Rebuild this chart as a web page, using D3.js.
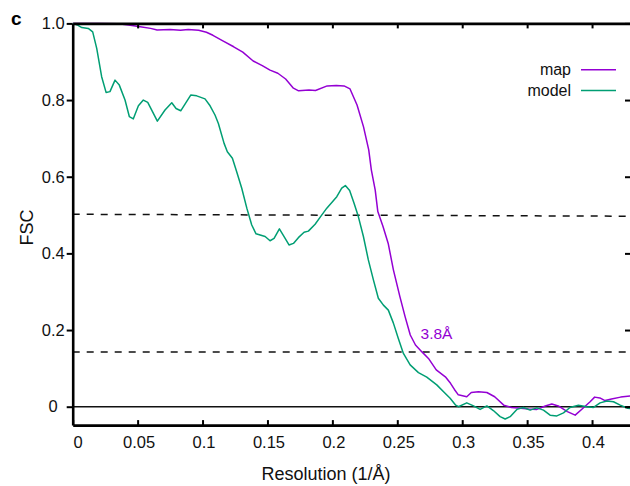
<!DOCTYPE html>
<html>
<head>
<meta charset="utf-8">
<script src="https://cdn.jsdelivr.net/npm/d3@7"></script>
<style>
  body { margin: 0; background: #fff; }
  svg { display: block; font-family: "Liberation Sans", Arial, Helvetica, sans-serif; }
</style>
</head>
<body>
<svg id="containerSVG" width="630" height="486"></svg>
<script>
//DATI

var risoluzioneMap = [0, 0.02, 0.035, 0.043, 0.052, 0.06, 0.065, 0.075, 0.083, 0.089, 0.097, 0.103, 0.108,
    0.116, 0.124, 0.131, 0.139, 0.146, 0.152, 0.158, 0.164, 0.17, 0.174, 0.182, 0.187, 0.196, 0.203, 0.209,
    0.2136, 0.219, 0.224, 0.228, 0.23, 0.233, 0.235, 0.239, 0.243, 0.247, 0.252, 0.256, 0.26, 0.264, 0.269,
    0.274, 0.28, 0.287, 0.291, 0.294, 0.297, 0.3035, 0.307, 0.3125, 0.319, 0.325, 0.332, 0.338, 0.345,
    0.351, 0.3575, 0.364, 0.369, 0.374, 0.381, 0.387, 0.393, 0.3985, 0.402, 0.406, 0.41, 0.415, 0.422, 0.43];
var fscMap = [1.0, 1.0, 0.999, 0.996, 0.991, 0.987, 0.983, 0.984, 0.982, 0.984, 0.982, 0.977, 0.969,
    0.954, 0.939, 0.925, 0.902, 0.89, 0.878, 0.87, 0.855, 0.831, 0.824, 0.826, 0.825, 0.837, 0.838, 0.837,
    0.829, 0.787, 0.73, 0.67, 0.618, 0.565, 0.509, 0.47, 0.426, 0.357, 0.287, 0.235, 0.187, 0.161, 0.143,
    0.126, 0.096, 0.078, 0.061, 0.045, 0.031, 0.026, 0.037, 0.039, 0.037, 0.026, 0.004, -0.002, -0.004,
    -0.006, -0.007, 0.002, 0.007, 0.002, -0.013, -0.022, -0.004, 0.013, 0.025, 0.023, 0.016, 0.02, 0.025, 0.028];

var risoluzioneModel = [0, 0.0035, 0.007, 0.012, 0.0154, 0.0185, 0.0223, 0.0257, 0.0287, 0.0326, 0.0359,
    0.0403, 0.0436, 0.0467, 0.0506, 0.0544, 0.0578, 0.0652, 0.0711, 0.0763, 0.0796, 0.0832, 0.0909, 0.0955,
    0.1019, 0.1058, 0.1096, 0.1122, 0.1166, 0.1191, 0.123, 0.1263, 0.1302, 0.1341, 0.1379, 0.1412, 0.1482,
    0.152, 0.1551, 0.1592, 0.1628, 0.1666, 0.17, 0.1738, 0.1782, 0.1815, 0.1867, 0.1905, 0.1957, 0.2034,
    0.2072, 0.21, 0.2133, 0.2167, 0.22, 0.2239, 0.2277, 0.2316, 0.2354, 0.2393, 0.2431, 0.247, 0.2508,
    0.2547, 0.2599, 0.2663, 0.2727, 0.2804, 0.2868, 0.2907, 0.295, 0.2971, 0.3035, 0.3087, 0.3138, 0.319,
    0.324, 0.3292, 0.3331, 0.3369, 0.3421, 0.3472, 0.3523, 0.3575, 0.3626, 0.3677, 0.3729, 0.378, 0.383,
    0.3895, 0.396, 0.4011, 0.4062, 0.4114, 0.4165, 0.4217, 0.4274, 0.43];
var fscModel = [1.0, 0.996, 0.989, 0.987, 0.978, 0.935, 0.861, 0.82, 0.822, 0.852, 0.839,
    0.8, 0.757, 0.751, 0.785, 0.8, 0.794, 0.745, 0.774, 0.793, 0.778, 0.772, 0.813, 0.811,
    0.803, 0.785, 0.761, 0.739, 0.687, 0.665, 0.648, 0.613, 0.57, 0.518, 0.474, 0.451, 0.444,
    0.433, 0.439, 0.464, 0.444, 0.422, 0.426, 0.441, 0.455, 0.458, 0.476, 0.494, 0.518, 0.548,
    0.57, 0.577, 0.564, 0.531, 0.496, 0.444, 0.383, 0.331, 0.283, 0.265, 0.252, 0.218, 0.178,
    0.139, 0.109, 0.089, 0.077, 0.057, 0.035, 0.022, 0.004, 0.0, 0.01, 0.002, -0.007, 0.002,
    -0.01, -0.026, -0.032, -0.026, -0.007, -0.002, -0.009, -0.003, -0.009, -0.022, -0.024, -0.016, -0.002,
    0.004, 0.0, -0.002, 0.01, 0.015, 0.013, 0.004, -0.004, -0.005];

// soglie tratteggiate (la 0.5 e' leggermente inclinata nell'originale)
var sogliaMezzo = [[0, 0.502], [0.43, 0.497]];
var sogliaBassa = [[0, 0.143], [0.43, 0.143]];

var tickX = [0, 0.05, 0.1, 0.15, 0.2, 0.25, 0.3, 0.35, 0.4];
var tickY = [0, 0.2, 0.4, 0.6, 0.8, 1.0];

var nomiLegenda = ["map", "model"];
var colori = ["#9400d3", "#009e73"];

var risoluzioneSoglia = 0.2632; // 1/3.8
var etichettaSoglia = "3.8\u00c5";

//VARIABILI

var svg = d3.select("#containerSVG");
var sinistra = 72.7, destra = 631, alto = 23.4, basso = 425.1;

var x = d3.scaleLinear().domain([0, 0.43]).range([sinistra, destra]);
var y = d3.scaleLinear().domain([-0.048, 1.0]).range([basso, alto]);

var linea = d3.line()
    .x(d => x(d[0]))
    .y(d => y(d[1]));

//FUNZIONI

function zip(a, b){
    return a.map((v, i) => [v, b[i]]);
}

function disegnaSoglie(){

    [sogliaMezzo, sogliaBassa].forEach(s => {
        svg.append("path")
            .datum(s)
            .attr("d", linea)
            .attr("fill", "none")
            .attr("stroke", "#111")
            .attr("stroke-width", 1.5)
            .attr("stroke-dasharray", "7,7");
    });

    svg.append("line")
        .attr("x1", x(0))
        .attr("x2", x(0.43))
        .attr("y1", y(0))
        .attr("y2", y(0))
        .attr("stroke", "#111")
        .attr("stroke-width", 1.5);

}

function disegnaCurve(){

    var serie = [zip(risoluzioneMap, fscMap), zip(risoluzioneModel, fscModel)];

    svg.selectAll(".curva")
        .data(serie)
        .enter()
        .append("path")
        .attr("class", "curva")
        .attr("d", linea)
        .attr("fill", "none")
        .attr("stroke", (d, i) => colori[i])
        .attr("stroke-width", 1.5)
        .attr("stroke-linejoin", "round");

    svg.append("text")
        .attr("x", x(risoluzioneSoglia) + 157)
        .attr("y", 338.5)
        .attr("x", 436.5)
        .style("text-anchor", "middle")
        .style("font-size", "15.5px")
        .attr("fill", colori[0])
        .text(etichettaSoglia);

}

function formatoTick(d){
    return d === 0 ? "0" : String(+d.toFixed(2));
}

function disegnaAssi(){

    var assi = svg.append("g");

    // sinistra: tick verso l'esterno
    var gSx = assi.append("g")
        .attr("transform", "translate(" + sinistra + ",0)")
        .call(d3.axisLeft(y).tickValues(tickY).tickSize(6).tickSizeOuter(0)
            .tickFormat(d => d === 0 ? "0" : d.toFixed(1)));
    gSx.selectAll(".tick text")
        .attr("x", -19.5)
        .style("text-anchor", "middle");

    // basso: tick verso l'interno
    var gBasso = assi.append("g")
        .attr("transform", "translate(0," + basso + ")")
        .call(d3.axisBottom(x).tickValues(tickX).tickSize(-5).tickSizeOuter(0)
            .tickPadding(11).tickFormat(formatoTick));
    gBasso.selectAll(".tick text")
        .attr("dx", d => d === 0 ? 5 : 1);

    assi.append("g")
        .attr("transform", "translate(0," + alto + ")")
        .call(d3.axisTop(x).tickValues(tickX.slice(1)).tickSize(-5).tickSizeOuter(0).tickFormat(""));

    assi.append("g")
        .attr("transform", "translate(" + destra + ",0)")
        .call(d3.axisRight(y).tickValues(tickY).tickSize(-6).tickSizeOuter(0).tickFormat(""));

    assi.selectAll(".domain")
        .attr("stroke", "#000")
        .attr("stroke-width", 2.6);
    assi.selectAll(".tick line")
        .attr("stroke", "#000")
        .attr("stroke-width", 2);
    assi.selectAll(".tick text")
        .attr("fill", "#111")
        .style("font-size", "16.5px")
        .style("font-family", "'Liberation Sans', Arial, sans-serif");

    // titoli
    svg.append("text")
        .attr("transform", "translate(33,227.5) rotate(-90)")
        .style("text-anchor", "middle")
        .style("font-size", "18px")
        .attr("fill", "#111")
        .text("FSC");

    svg.append("text")
        .attr("x", 326)
        .attr("y", 480)
        .style("text-anchor", "middle")
        .style("font-size", "18px")
        .attr("fill", "#111")
        .text("Resolution (1/\u00c5)");

    svg.append("text")
        .attr("x", 11)
        .attr("y", 25)
        .style("font-size", "19px")
        .style("font-weight", "bold")
        .attr("fill", "#000")
        .text("c");

}

function disegnaLegenda(){

    var g = svg.selectAll(".voce")
        .data(nomiLegenda)
        .enter()
        .append("g")
        .attr("class", "voce")
        .attr("transform", (d, i) => "translate(0," + (69.7 + i * 20.8) + ")");

    g.append("text")
        .attr("x", 571)
        .attr("y", 5.5)
        .style("text-anchor", "end")
        .style("font-size", "16px")
        .attr("fill", "#111")
        .text(d => d);

    g.append("line")
        .attr("x1", 581)
        .attr("x2", 616)
        .attr("y1", 0)
        .attr("y2", 0)
        .attr("stroke", (d, i) => colori[i])
        .attr("stroke-width", 1.5);

}

function inizializzazione(){

    disegnaSoglie();
    disegnaCurve();
    disegnaAssi();
    disegnaLegenda();

}

inizializzazione();
</script>
</body>
</html>
